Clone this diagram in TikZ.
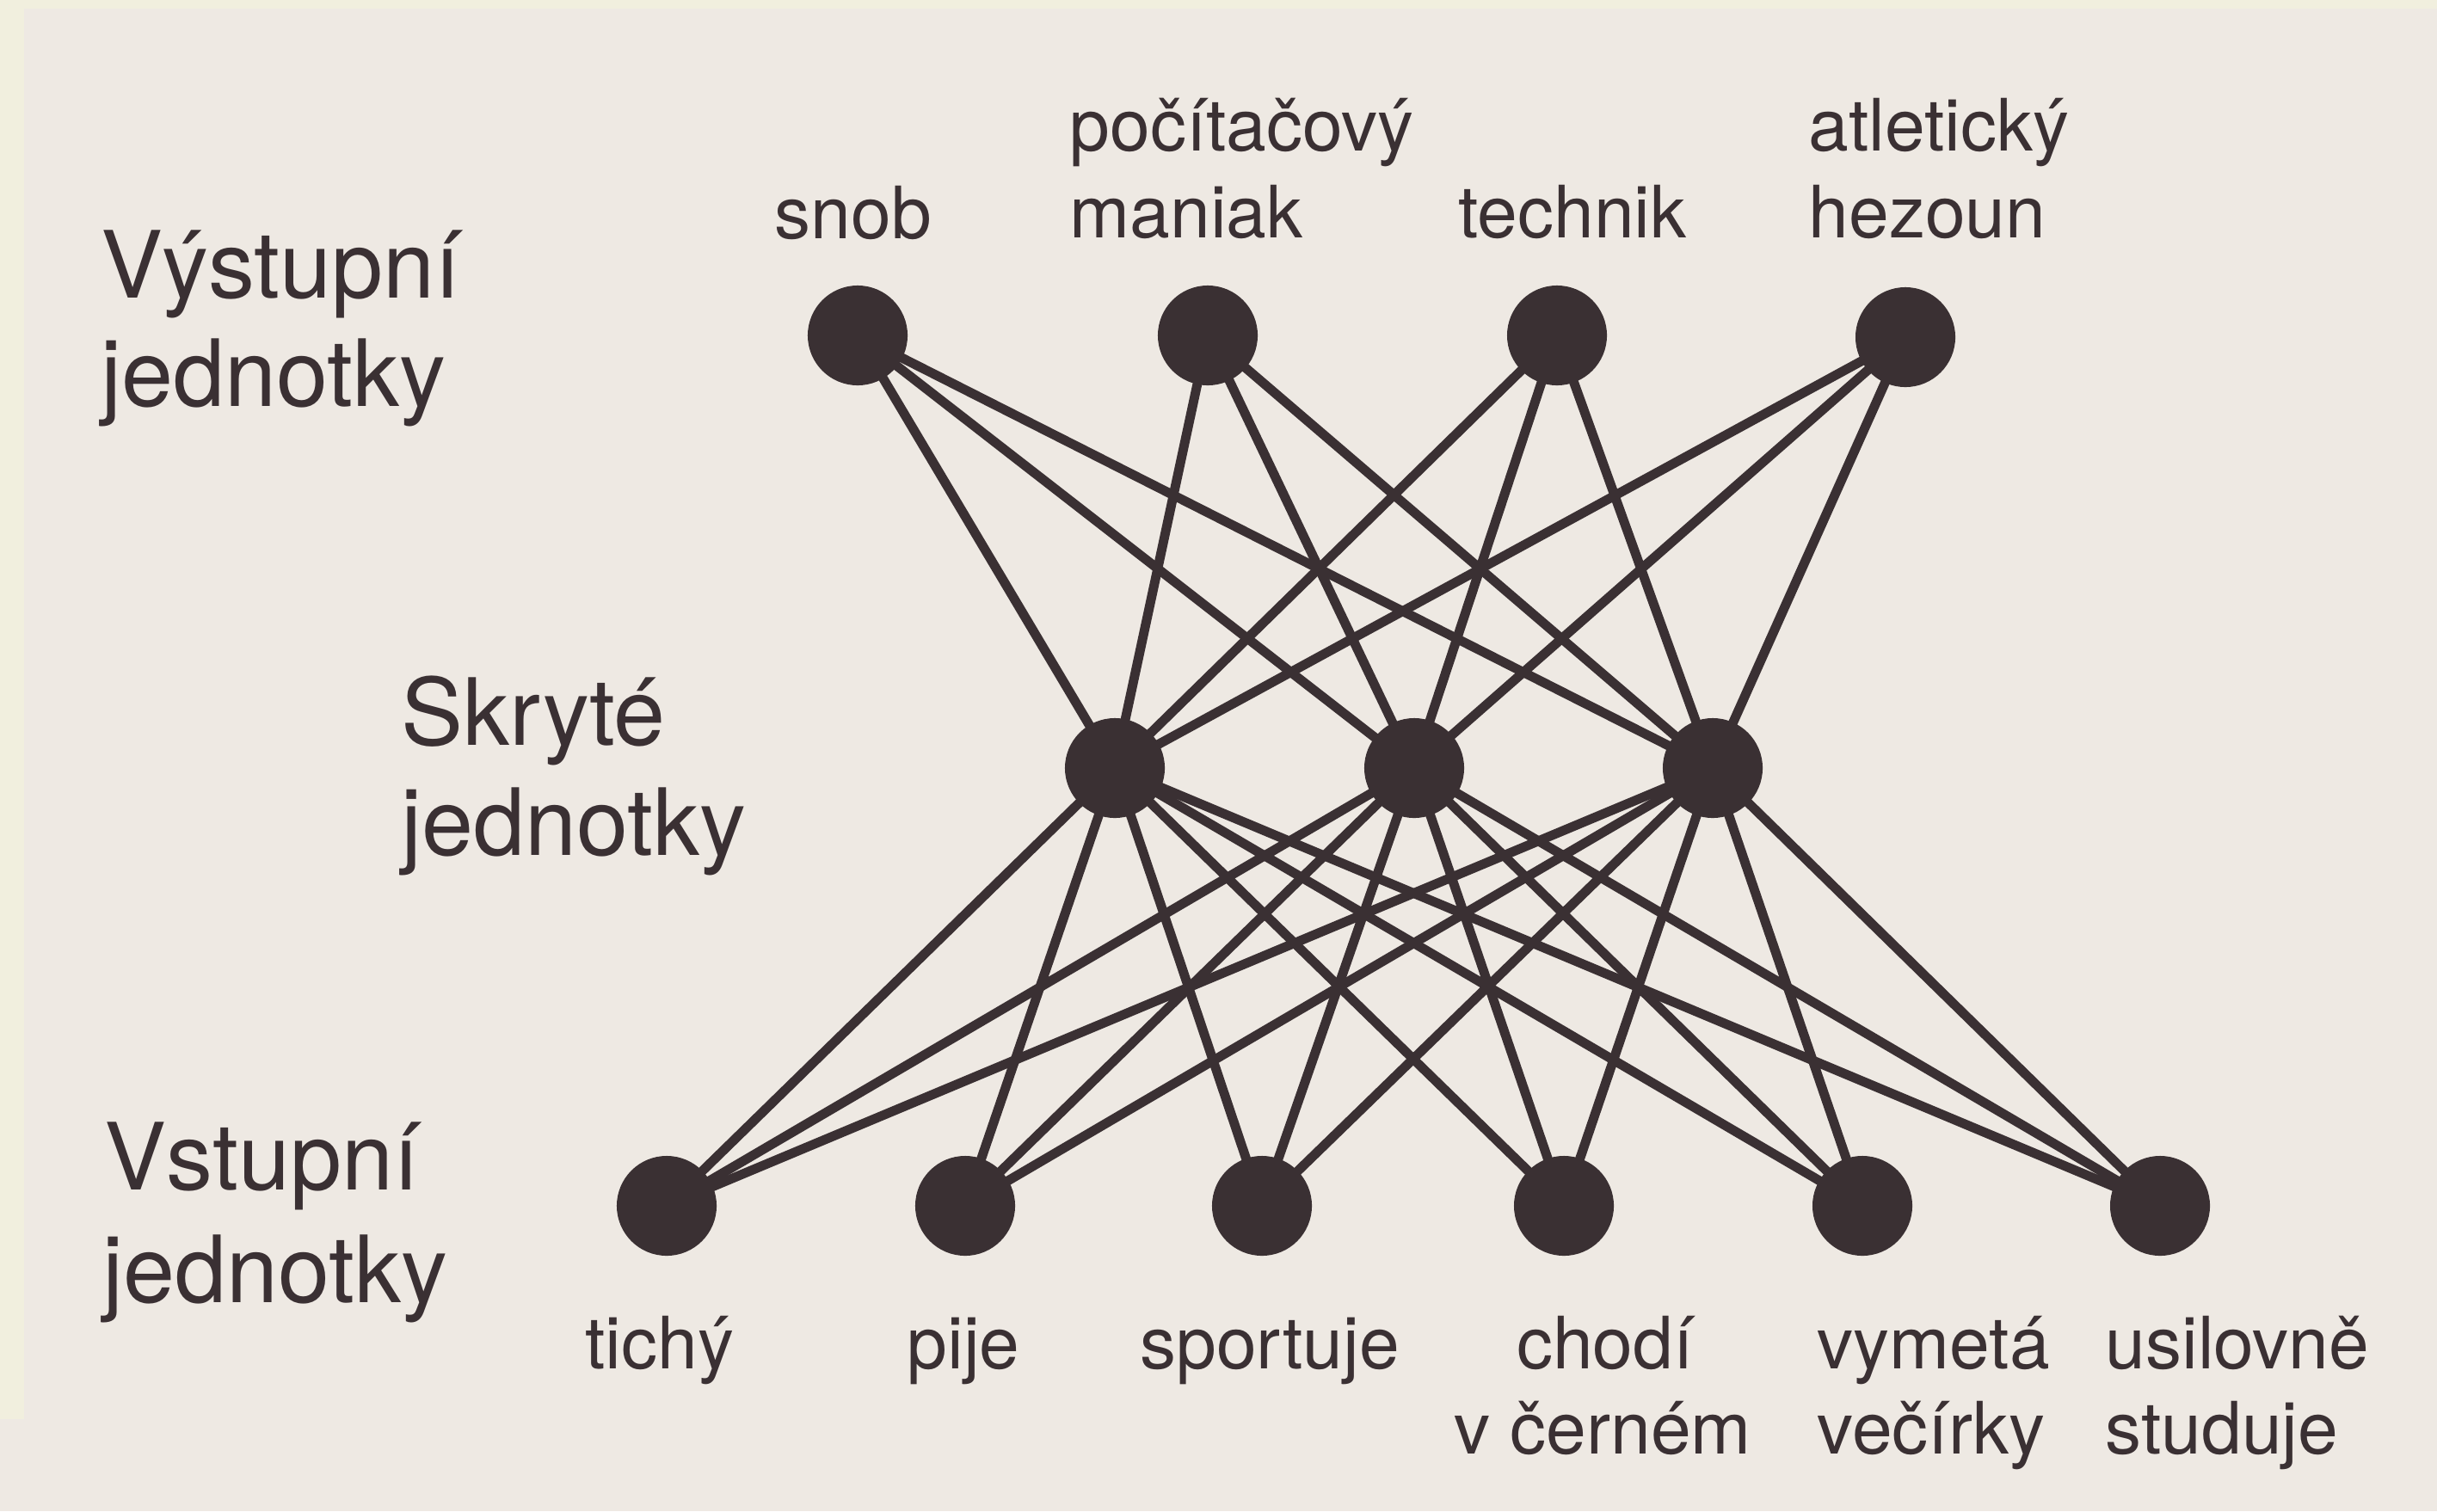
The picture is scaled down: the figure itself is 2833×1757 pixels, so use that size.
\documentclass[tikz,border=0pt]{standalone}
\usepackage{fontspec}
\setmainfont{TeX Gyre Heros}
\definecolor{paper}{RGB}{238,233,227}
\definecolor{margin}{RGB}{241,239,222}
\definecolor{ink}{RGB}{58,48,51}
\pgfdeclarelayer{bg}
\pgfdeclarelayer{edges}
\pgfsetlayers{bg,edges,main}
\begin{document}
\begin{tikzpicture}[x=0.01cm,y=-0.01cm,
  unit/.style={circle,fill=ink,draw=none,minimum size=1.16cm,inner sep=0pt},
  side/.style={font=\fontsize{30.7}{35.8}\selectfont,text=ink,anchor=base west,inner sep=0pt},
  lbl/.style={font=\fontsize{23.9}{28.5}\selectfont,text=ink,inner sep=0pt},
  link/.style={draw=ink,line width=3.1pt}]
\useasboundingbox (0,0) rectangle (2833,1757);
\begin{pgfonlayer}{bg}
  \fill[paper] (0,0) rectangle (2833,1757);
  \fill[margin] (0,0) rectangle (2833,10);
  \fill[margin] (0,0) rectangle (28,1650);
\end{pgfonlayer}

% output units
\node[unit] (o1) at (997,390) {};
\node[unit] (o2) at (1404,390) {};
\node[unit] (o3) at (1810,390) {};
\node[unit] (o4) at (2215,392) {};
% hidden units
\node[unit] (h1) at (1296,893) {};
\node[unit] (h2) at (1644,893) {};
\node[unit] (h3) at (1991,893) {};
% input units
\node[unit] (i1) at (775,1402) {};
\node[unit] (i2) at (1122,1402) {};
\node[unit] (i3) at (1467,1402) {};
\node[unit] (i4) at (1818,1402) {};
\node[unit] (i5) at (2165,1402) {};
\node[unit] (i6) at (2511,1402) {};

\begin{pgfonlayer}{edges}
  \foreach \o in {o1,o2,o3,o4}
    \foreach \h in {h1,h2,h3}
      \draw[link] (\o.center) -- (\h.center);
  \foreach \h in {h1,h2,h3}
    \foreach \i in {i1,i2,i3,i4,i5,i6}
      \draw[link] (\h.center) -- (\i.center);
\end{pgfonlayer}

% layer labels
\node[side] (outA) at (117,346) {Výstupní};
\node[side] (outB) at (117,472) {jednotky};
\node[side] (hidA) at (466,866) {Skryté};
\node[side] (hidB) at (466,994) {jednotky};
\node[side] (inA) at (121,1383) {Vstupní};
\node[side] (inB) at (119,1514) {jednotky};

% output labels
\node[lbl,anchor=base] (l-snob) at (992,277) {snob};
\node[lbl,anchor=base west] (l-pc1) at (1243,175) {počítačový};
\node[lbl,anchor=base west] (l-pc2) at (1243,276) {maniak};
\node[lbl,anchor=base] (l-tech) at (1828,276) {technik};
\node[lbl,anchor=base west] (l-atl1) at (2102,175) {atletický};
\node[lbl,anchor=base west] (l-atl2) at (2102,276) {hezoun};

% input labels
\node[lbl,anchor=base] (l-tichy) at (767,1591) {tichý};
\node[lbl,anchor=base] (l-pije) at (1120,1591) {pije};
\node[lbl,anchor=base] (l-sport) at (1476,1591) {sportuje};
\node[lbl,anchor=base] (l-chodi1) at (1866,1591) {chodí};
\node[lbl,anchor=base] (l-chodi2) at (1863,1690) {v černém};
\node[lbl,anchor=base west] (l-vym1) at (2112,1591) {vymetá};
\node[lbl,anchor=base west] (l-vym2) at (2112,1690) {večírky};
\node[lbl,anchor=base west] (l-usil1) at (2447,1591) {usilovně};
\node[lbl,anchor=base west] (l-usil2) at (2447,1690) {studuje};
\end{tikzpicture}
\end{document}
